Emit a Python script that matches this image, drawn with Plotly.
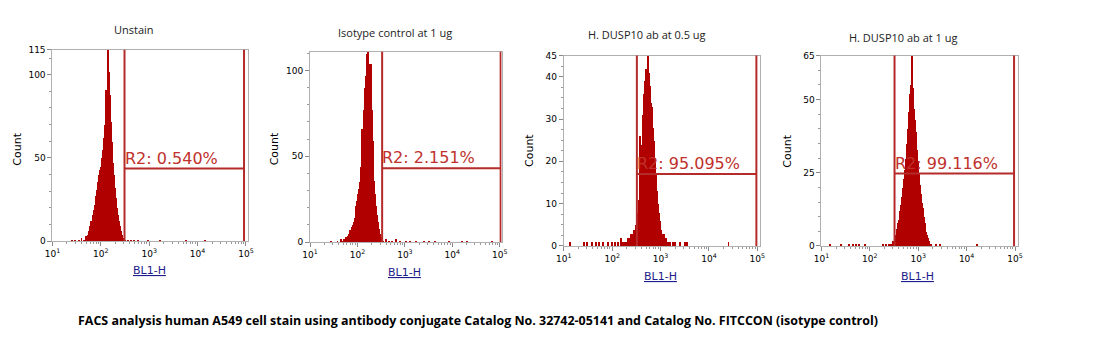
import numpy as np
import plotly.graph_objects as go

# ---------------- data ----------------
titles = ["Unstain", "Isotype control at 1 ug", "H. DUSP10 ab at 0.5 ug", "H. DUSP10 ab at 1 ug"]
gate_labels = ["R2: 0.540%", "R2: 2.151%", "R2: 95.095%", "R2: 99.116%"]
x_tick_vals = [1, 2, 3, 4, 5]          # log10 of BL1-H
x_tick_text = ["10<sup>1</sup>", "10<sup>2</sup>", "10<sup>3</sup>", "10<sup>4</sup>", "10<sup>5</sup>"]
BIN_WIDTH = 0.02                        # decades per histogram channel

# main peak: first channel position (log10) and counts per channel
p1_start = 1.70
p1_counts = [3, 2, 4, 6, 9, 12, 10, 16, 19, 22, 27, 31, 36, 34, 40, 43, 45, 50, 55, 62, 70,
             91, 86, 115, 102, 88, 72, 60, 47, 40, 32, 26, 20, 16, 12, 9, 6, 4, 2, 1, 1]
p2_start = 1.70
p2_counts = [1, 2, 1, 3, 2, 4, 5, 7, 6, 9, 10, 12, 14, 17, 21, 24, 28, 31, 35, 44, 66, 58,
             77, 90, 97, 110, 111, 104, 93, 104, 77, 59, 45, 36, 28, 21, 16, 12, 8, 5, 3, 2, 1]
p3_start = 2.30
p3_counts = [1, 2, 1, 2, 3, 2, 3, 4, 3, 5, 6, 8, 11, 14, 26, 19, 24, 31, 36, 39, 42, 40, 45,
             41, 38, 34, 33, 28, 25, 21, 17, 13, 10, 8, 6, 4, 3, 2, 3, 1, 2, 1]
p4_start = 2.40
p4_counts = [1, 0, 1, 1, 2, 2, 3, 4, 5, 6, 8, 9, 12, 14, 17, 20, 23, 26, 30, 35, 40, 46, 52,
             55, 65, 54, 47, 43, 39, 33, 29, 25, 21, 18, 15, 13, 10, 8, 7, 5, 4, 3, 2, 1, 1]

# isolated single events (log10 position, count)
p1_events_x = [1.41, 1.47, 1.55, 1.61, 1.66, 2.57, 2.63, 2.69, 2.78, 2.98, 3.24, 3.76, 4.16]
p1_events_y = [1, 1, 1, 2, 1, 1, 1, 1, 1, 1, 1, 1, 1]
p2_events_x = [1.44, 1.58, 1.65, 2.60, 2.66, 2.72, 2.82, 2.90, 3.02, 3.10, 3.24, 3.40, 3.52,
               3.64, 3.94, 4.20, 4.32, 4.83]
p2_events_y = [1, 1, 2, 2, 1, 1, 2, 1, 1, 1, 1, 1, 1, 1, 1, 1, 1, 1]
p3_events_x = [1.12, 1.41, 1.48, 1.58, 1.66, 1.72, 1.80, 1.90, 2.00, 2.05, 2.12, 2.18, 2.22,
               2.26, 3.16, 3.20, 3.25, 3.30, 3.40, 3.50, 3.55, 4.40]
p3_events_y = [1, 1, 1, 1, 1, 1, 1, 1, 1, 1, 1, 2, 1, 1, 1, 1, 1, 1, 1, 1, 1, 1]
p4_events_x = [1.18, 1.41, 1.57, 1.66, 1.72, 1.78, 1.90, 2.28, 2.35, 3.37, 3.45, 4.22]
p4_events_y = [1, 1, 1, 1, 1, 1, 1, 1, 1, 1, 1, 1]

y_max = [115, 111, 45, 65]
y_tick_vals = [[0, 50, 100, 115], [0, 50, 100], [0, 10, 20, 30, 40, 45], [0, 25, 50, 65]]
y_minor = [10, 10, 2.5, 5]
gate_left = [2.49, 2.52, 2.51, 2.51]
gate_right = [4.96, 5.02, 4.98, 4.98]
gate_level = [43.6, 43.0, 17.0, 24.7]

starts = [p1_start, p2_start, p3_start, p4_start]
counts = [p1_counts, p2_counts, p3_counts, p4_counts]
ev_x = [p1_events_x, p2_events_x, p3_events_x, p4_events_x]
ev_y = [p1_events_y, p2_events_y, p3_events_y, p4_events_y]

# ---------------- layout geometry (pixels) ----------------
W, H = 1095, 353
boxes = [(45, 46, 243, 243), (306, 48, 500, 244), (563, 52, 762, 248), (824, 52, 1023, 248)]
x_ranges = [[1, 5.04], [1, 5.04], [1, 5.06], [1, 5.06]]
title_pos = [(128, 25), (392, 28), (647, 30), (907, 33)]
count_pos = [(10, 148), (270, 148), (529, 150), (790, 150)]
bl_pos = [(143, 273), (402, 275), (661, 279), (921, 279)]

HIST = "#b00000"
GATE = "#b52a2a"
LABEL = "#c0312c"

minor_x = [d + np.log10(k) for d in range(1, 5) for k in range(2, 10)]

fig = go.Figure()
layout = dict(width=W, height=H, margin=dict(l=0, r=0, t=0, b=0),
              paper_bgcolor="white", plot_bgcolor="white", showlegend=False,
              bargap=0)
shapes, annotations = [], []

for i in range(4):
    xa = "x" if i == 0 else f"x{i+1}"
    ya = "y" if i == 0 else f"y{i+1}"
    xk = "xaxis" if i == 0 else f"xaxis{i+1}"
    yk = "yaxis" if i == 0 else f"yaxis{i+1}"
    l, t, r, b = boxes[i]
    pos = [starts[i] + BIN_WIDTH * j for j in range(len(counts[i]))]
    fig.add_trace(go.Bar(x=pos + ev_x[i], y=counts[i] + ev_y[i], width=BIN_WIDTH,
                         marker=dict(color=HIST, line=dict(width=0)),
                         xaxis=xa, yaxis=ya, hoverinfo="skip"))
    layout[xk] = dict(domain=[l / W, r / W], range=x_ranges[i], anchor=ya,
                      tickmode="array", tickvals=x_tick_vals, ticktext=x_tick_text,
                      ticks="outside", ticklen=4, tickcolor="#888", tickwidth=1,
                      showline=True, linecolor="#b0b0b0", mirror=True, linewidth=1,
                      showgrid=False, zeroline=False,
                      tickfont=dict(family="DejaVu Sans", size=9, color="black"),
                      minor=dict(tickmode="array", tickvals=minor_x, ticks="outside",
                                 ticklen=2, tickcolor="#999", showgrid=False))
    layout[yk] = dict(domain=[1 - b / H, 1 - t / H], range=[0, y_max[i]], anchor=xa,
                      tickmode="array", tickvals=y_tick_vals[i],
                      ticks="outside", ticklen=4, tickcolor="#888", tickwidth=1,
                      showline=True, linecolor="#b0b0b0", mirror=True, linewidth=1,
                      showgrid=False, zeroline=False,
                      tickfont=dict(family="DejaVu Sans", size=9, color="black"),
                      minor=dict(dtick=y_minor[i], ticks="outside", ticklen=2,
                                 tickcolor="#999", showgrid=False))
    # gate lines
    for gx in (gate_left[i], gate_right[i]):
        shapes.append(dict(type="line", xref=xa, yref=f"{ya} domain", x0=gx, x1=gx,
                           y0=0, y1=1, line=dict(color=GATE, width=2)))
    shapes.append(dict(type="line", xref=xa, yref=ya, x0=gate_left[i], x1=gate_right[i],
                       y0=gate_level[i], y1=gate_level[i], line=dict(color=GATE, width=2)))
    annotations.append(dict(x=gate_left[i], y=gate_level[i], xref=xa, yref=ya,
                            text=gate_labels[i], showarrow=False, xanchor="left",
                            yanchor="bottom", xshift=-2, yshift=-1,
                            font=dict(family="DejaVu Sans", size=16, color=LABEL)))
    tx, ty = title_pos[i]
    annotations.append(dict(x=tx / W, y=1 - ty / H, xref="paper", yref="paper",
                            text=titles[i], showarrow=False, xanchor="center",
                            yanchor="middle",
                            font=dict(family="Open Sans", size=11, color="#222")))
    cx, cy = count_pos[i]
    annotations.append(dict(x=cx / W, y=1 - cy / H, xref="paper", yref="paper",
                            text="Count", showarrow=False, textangle=-90,
                            xanchor="center", yanchor="middle",
                            font=dict(family="DejaVu Sans", size=11, color="black")))
    bx, by = bl_pos[i]
    annotations.append(dict(x=bx / W, y=1 - by / H, xref="paper", yref="paper",
                            text="<u>BL1-H</u>", showarrow=False,
                            xanchor="center", yanchor="middle",
                            font=dict(family="DejaVu Sans", size=11, color="#1c1c8a")))

annotations.append(dict(x=476 / W, y=1 - 325 / H, xref="paper", yref="paper",
                        text="<b>FACS analysis human A549 cell stain using antibody conjugate "
                             "Catalog No. 32742-05141 and Catalog No. FITCCON (isotype control)</b>",
                        showarrow=False, xanchor="center", yanchor="middle",
                        font=dict(family="Open Sans", size=12.45, color="black")))

layout["shapes"] = shapes
layout["annotations"] = annotations
fig.update_layout(**layout)
fig.write_html("out.html",
               post_script="document.body.style.margin='0';"
                           "document.documentElement.style.overflow='hidden';")
